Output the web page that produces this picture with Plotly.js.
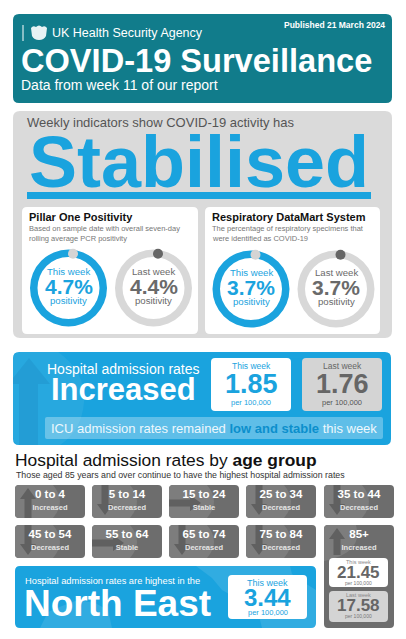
<!DOCTYPE html>
<html><head><meta charset="utf-8">
<script src="https://cdn.plot.ly/plotly-3.0.1.min.js"></script>
<style>html,body{margin:0;padding:0;background:#fff;overflow:hidden}#chart{width:406px;height:639px}</style>
</head><body><div id="chart"></div>
<script>
// ---------- data ----------
const agencyName = 'UK Health Security Agency';
const publishedDate = 'Published 21 March 2024';
const reportTitle = 'COVID-19 Surveillance';
const reportWeek = 11;
const overallStatus = 'Stabilised';
const indicatorNames = ['Pillar One Positivity', 'Respiratory DataMart System'];
const indicatorNotes = [['Based on sample date with overall seven-day', 'rolling average PCR positivity'],
                        ['The percentage of respiratory specimens that', 'were identified as COVID-19']];
const weekLabels = ['This week', 'Last week'];
const pillarOnePositivity = [4.7, 4.4];
const datamartPositivity = [3.7, 3.7];
const admissionStatus = 'Increased';
const admissionRates = [1.85, 1.76];
const icuStatus = 'low and stable';
const ageGroups = ['0 to 4','5 to 14','15 to 24','25 to 34','35 to 44','45 to 54','55 to 64','65 to 74','75 to 84','85+'];
const ageTrends = ['Increased','Decreased','Stable','Decreased','Decreased','Decreased','Stable','Decreased','Decreased','Increased'];
const oldestRates = [21.45, 17.58];
const topRegion = 'North East';
const topRegionRate = 3.44;

// ---------- style ----------
const W = 406, H = 639;
const F = 'Liberation Sans, Arial, Helvetica, sans-serif';
const TEAL = '#117c8b', BLUE = '#1aa3de', PANEL = '#dadada', TILE = '#6d6d6d', TILE_LIGHT = '#7d7d7d', ARROW = '#606060';

function rrect(x0, y0, x1, y1, r) {
  return `M${x0+r},${y0} L${x1-r},${y0} Q${x1},${y0} ${x1},${y0+r} L${x1},${y1-r} Q${x1},${y1} ${x1-r},${y1} L${x0+r},${y1} Q${x0},${y1} ${x0},${y1-r} L${x0},${y0+r} Q${x0},${y0} ${x0+r},${y0} Z`;
}
const shapes = [];
function shp(path, fill, layer) {
  shapes.push({type: 'path', path: path, xref: 'x', yref: 'y', fillcolor: fill, line: {width: 0}, layer: layer || 'below'});
}
const annotations = [];
function ann(x, y, text, size, color, opts) {
  annotations.push(Object.assign({x: x, y: y, xref: 'x', yref: 'y', text: text, showarrow: false,
    font: {family: F, size: size, color: color}, xanchor: 'center', yanchor: 'middle', borderpad: 0}, opts || {}));
}

// ---------- header ----------
shp(rrect(13, 14, 392, 103, 6), TEAL);
shapes.push({type: 'line', xref: 'x', yref: 'y', x0: 23, x1: 23, y0: 25, y1: 41, line: {color: '#fff', width: 1}, layer: 'above'});
shp('M31,28 Q33,25 36,27 Q39,24 42,27 Q45,25 47,28 L46,36 Q44,40 39,40 Q34,40 32,36 Z', 'rgba(255,255,255,0.9)', 'above');
ann(51, 33, agencyName, 12.5, '#fff', {xanchor: 'left'});
ann(386, 25, '<b>' + publishedDate + '</b>', 8.5, '#fff', {xanchor: 'right'});
ann(20, 60, '<b>' + reportTitle + '</b>', 32.6, '#fff', {xanchor: 'left'});
ann(20, 85, 'Data from week ' + reportWeek + ' of our report', 14, '#fff', {xanchor: 'left'});

// ---------- stabilised panel ----------
shp(rrect(13, 111, 392, 338, 7), PANEL);
ann(26, 122, 'Weekly indicators show COVID-19 activity has', 13, '#555', {xanchor: 'left'});
ann(199, 162, '<b>' + overallStatus + '</b>', 72, BLUE);
shp('M27,192 L371,192 L371,199 L27,199 Z', BLUE);
const cardX = [[22, 198], [205, 380]];
cardX.forEach((c, i) => {
  shp(rrect(c[0], 207, c[1], 334, 5), '#fff');
  ann(c[0] + 6, 217, '<b>' + indicatorNames[i] + '</b>', 11, '#111', {xanchor: 'left'});
  ann(c[0] + 6, 228, indicatorNotes[i][0], 7.5, '#777', {xanchor: 'left'});
  ann(c[0] + 6, 238, indicatorNotes[i][1], 7.5, '#777', {xanchor: 'left'});
});

// donuts
const donutCenters = [[68.5, 288], [153.5, 288], [251, 289], [336, 289]];
const donutValues = [pillarOnePositivity[0], pillarOnePositivity[1], datamartPositivity[0], datamartPositivity[1]];
const R = 38.5, ring = 7.5;
const traces = [];
donutCenters.forEach((c, i) => {
  const thisWeek = i % 2 === 0;
  traces.push({
    type: 'pie', values: [donutValues[i]], labels: [weekLabels[i % 2]],
    marker: {colors: [thisWeek ? BLUE : '#d8d8d8'], line: {width: 0}},
    hole: (R - ring) / R, textinfo: 'none', hoverinfo: 'skip', sort: false, showlegend: false,
    domain: {x: [(c[0] - R) / W, (c[0] + R) / W], y: [1 - (c[1] + R) / H, 1 - (c[1] - R) / H]}
  });
  const dx = c[0] + 4.5, dy = c[1] - R + ring / 2 + 0.5;
  shapes.push({type: 'circle', xref: 'x', yref: 'y', x0: dx - 5, x1: dx + 5, y0: dy - 5, y1: dy + 5,
    fillcolor: thisWeek ? '#d4d4d4' : '#666', line: {width: 0}, layer: 'above'});
  const col = thisWeek ? BLUE : '#6a6a6a';
  ann(c[0], c[1] - 16.5, weekLabels[i % 2], 9.6, col);
  ann(c[0], c[1] - 1.5, '<b>' + donutValues[i].toFixed(1) + '%</b>', 21, col);
  ann(c[0], c[1] + 12, 'positivity', 9.6, col);
});

// ---------- hospital admissions ----------
shp(rrect(13, 352, 391, 445, 6), BLUE);
shp('M13,360 Q13,352 21,352 L58,352 Q86,372 84,402 Q82,430 60,445 L21,445 Q13,445 13,437 Z', 'rgba(255,255,255,0.06)');
shp('M29,358 L50,384 L38,384 L38,445 L19,445 L19,384 L13,384 L13,378 Z', 'rgba(0,70,130,0.10)');
ann(46, 369, 'Hospital admission rates', 14, '#fff', {xanchor: 'left'});
ann(50, 389, '<b>' + admissionStatus + '</b>', 31, '#fff', {xanchor: 'left'});
const rateBoxes = [[211, 291, '#fff', BLUE, BLUE], [302, 382, '#d4d4d4', '#666', '#555']];
rateBoxes.forEach((b, i) => {
  shp(rrect(b[0], 358, b[1], 411, 4), b[2]);
  const cx = (b[0] + b[1]) / 2;
  ann(cx, 366, weekLabels[i], 8.5, b[3]);
  ann(cx, 384, '<b>' + admissionRates[i].toFixed(2) + '</b>', 27, b[3]);
  ann(cx, 402, 'per 100,000', 7.5, b[4]);
});
shp(rrect(45, 417, 383, 439, 2), 'rgba(255,255,255,0.3)');
ann(214, 428, '<span style="color:#eef8fd">ICU admission rates remained </span><b><span style="color:#0b8fcc">' + icuStatus +
  '</span></b><span style="color:#eef8fd"> this week</span>', 13, '#fff');

// ---------- age groups ----------
ann(14, 460, 'Hospital admission rates by <b>age group</b>', 17.4, '#111', {xanchor: 'left'});
ann(15, 475, 'Those aged 85 years and over continue to have the highest hospital admission rates', 8.8, '#333', {xanchor: 'left'});
const colX = [15, 92, 169, 246, 324], rowY = [485, 525], tileW = 70, tileH = 33;
const labX = [], labY = [], labT = [], stX = [], stY = [], stT = [];
ageGroups.forEach((g, i) => {
  const L = colX[i % 5], T = rowY[Math.floor(i / 5)];
  const B = (i === 9) ? 628 : T + tileH;
  shp(rrect(L, T, L + tileW, B, 4), TILE);
  if (i === 9) {
    shp(`M${L+4},${T} L${L+32},${T} Q${L+40},${T+28} ${L},${T+36} L${L},${T+4} Q${L},${T} ${L+4},${T} Z`, TILE_LIGHT);
  } else {
    shp(`M${L+4},${T} L${L+38},${T} Q${L+52},${T+tileH/2} ${L+38},${B} L${L+4},${B} Q${L},${B} ${L},${B-4} L${L},${T+4} Q${L},${T} ${L+4},${T} Z`, TILE_LIGHT);
  }
  const t = ageTrends[i];
  const ax = L + 13;
  const bot = (i === 9) ? T + 30 : B;
  if (t === 'Increased') {
    shp(`M${ax},${T+3} L${ax+8},${T+14} L${ax+3.5},${T+14} L${ax+3.5},${bot} L${ax-3.5},${bot} L${ax-3.5},${T+14} L${ax-8},${T+14} Z`, ARROW);
  } else if (t === 'Decreased') {
    shp(`M${ax},${B-3} L${ax+8},${B-14} L${ax+3.5},${B-14} L${ax+3.5},${T} L${ax-3.5},${T} L${ax-3.5},${B-14} L${ax-8},${B-14} Z`, ARROW);
  } else {
    const m = T + 18;
    shp(`M${L+32},${m} L${L+21},${m-8} L${L+21},${m-3.5} L${L},${m-3.5} L${L},${m+3.5} L${L+21},${m+3.5} L${L+21},${m+8} Z`, ARROW);
  }
  labX.push(L + tileW / 2); labY.push(T + 10); labT.push('<b>' + g + '</b>');
  stX.push(L + tileW / 2); stY.push(T + 22.7); stT.push('<b>' + t + '</b>');
});
traces.push({type: 'scatter', mode: 'text', x: labX, y: labY, text: labT, hoverinfo: 'skip', showlegend: false,
  textposition: 'middle center', textfont: {family: F, size: 11.5, color: '#fff'}});
traces.push({type: 'scatter', mode: 'text', x: stX, y: stY, text: stT, hoverinfo: 'skip', showlegend: false,
  textposition: 'middle center', textfont: {family: F, size: 7.5, color: '#e6e6e6'}});

// 85+ rate boxes
const oldBoxes = [[558, 587, '#fff'], [591, 622, '#d4d4d4']];
oldBoxes.forEach((b, i) => {
  shp(rrect(329, b[0], 388, b[1], 4), b[2], 'above');
  ann(358.5, b[0] + 4, weekLabels[i], 5.5, '#888');
  ann(358.5, b[0] + 14.5, '<b>' + oldestRates[i].toFixed(2) + '</b>', 17, '#666');
  ann(358.5, b[0] + 24.5, 'per 100,000', 5, '#777');
});

// ---------- region ----------
shp(rrect(15, 566, 316, 628, 5), BLUE);
shp('M196,566 L290,566 L292,574 L300,580 L316,590 L316,628 L262,628 L258,612 L248,604 L236,598 L222,590 L212,578 Z', 'rgba(255,255,255,0.10)');
shp('M40,628 L48,612 L62,606 L78,600 L95,603 L108,610 L112,628 Z', 'rgba(255,255,255,0.10)');
ann(24, 581, 'Hospital admission rates are highest in the', 9.3, '#fff', {xanchor: 'left'});
ann(23, 603, '<b>' + topRegion + '</b>', 37, '#fff', {xanchor: 'left'});
shp(rrect(228, 575, 307, 619, 4), '#fff');
ann(267.5, 582.5, weekLabels[0], 9, BLUE);
ann(267.5, 597, '<b>' + topRegionRate.toFixed(2) + '</b>', 24, BLUE);
ann(267.5, 612.5, 'per 100,000', 7.5, BLUE);

const layout = {
  width: W, height: H, margin: {l: 0, r: 0, t: 0, b: 0, pad: 0},
  paper_bgcolor: '#fff', plot_bgcolor: 'rgba(0,0,0,0)',
  xaxis: {range: [0, W], visible: false, fixedrange: true},
  yaxis: {range: [H, 0], visible: false, fixedrange: true},
  showlegend: false, hovermode: false,
  shapes: shapes, annotations: annotations
};
Plotly.newPlot('chart', traces, layout, {displayModeBar: false, staticPlot: true});
</script>
</body></html>
